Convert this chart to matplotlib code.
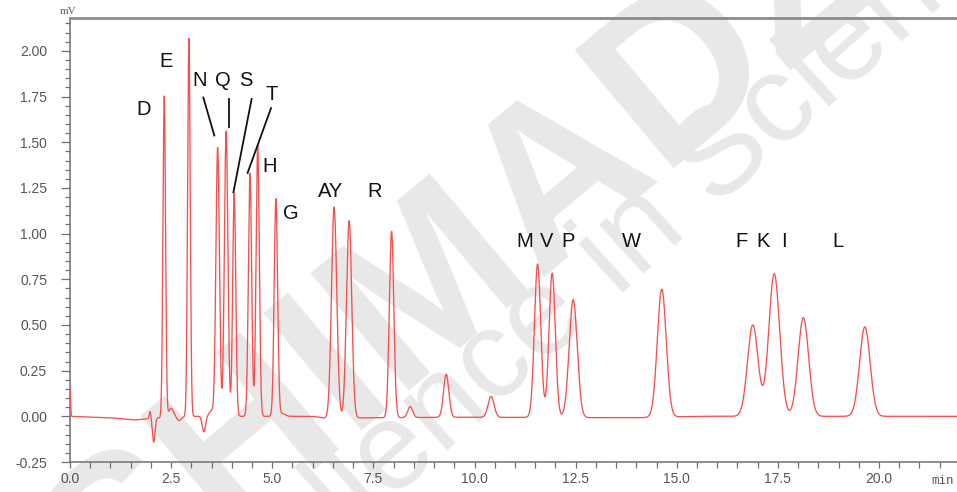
import numpy as np
import matplotlib
matplotlib.use("Agg")
import matplotlib.pyplot as plt
from matplotlib.ticker import MultipleLocator, FormatStrFormatter

plt.rcParams["font.family"] = ["Liberation Sans", "DejaVu Sans"]
plt.rcParams["axes.unicode_minus"] = False

# peak table: retention time (min), height (mV), width (sigma, min)
peak_names = ["D", "E", "N", "Q", "S", "T", "H", "G", "A", "Y", "R",
              "", "", "", "M", "V", "P", "W", "F", "K", "I", "L"]
peak_times = [2.33, 2.94, 3.65, 3.86, 4.06, 4.45, 4.64, 5.09, 6.53, 6.90, 7.95,
              8.41, 9.30, 10.41, 11.56, 11.92, 12.44, 14.63, 16.88, 17.41, 18.13, 19.65]
peak_heights = [1.76, 2.07, 1.47, 1.56, 1.22, 1.33, 1.48, 1.19, 1.155, 1.08, 1.02,
                0.06, 0.235, 0.115, 0.84, 0.79, 0.645, 0.70, 0.50, 0.78, 0.54, 0.49]
peak_widths = [0.032, 0.032, 0.043, 0.043, 0.038, 0.040, 0.040, 0.042, 0.065, 0.065, 0.055,
               0.06, 0.065, 0.075, 0.078, 0.078, 0.10, 0.11, 0.13, 0.135, 0.13, 0.13]

# small disturbances (injection spike, system dips, tails)
minor_times = [0.0, 1.98, 2.07, 2.50, 2.70, 3.31, 3.50, 5.25]
minor_heights = [0.15, 0.04, -0.13, 0.05, -0.02, -0.085, 0.03, 0.015]
minor_widths = [0.012, 0.02, 0.03, 0.06, 0.05, 0.04, 0.06, 0.07]

# baseline drift knots
base_times = [0.0, 1.0, 1.6, 2.0, 3.0, 6.0, 6.3, 9.5, 14.0, 15.5, 22.0]
base_values = [0.0, -0.008, -0.02, -0.012, 0.0, 0.0, -0.01, -0.005, -0.008, 0.0, 0.0]

# annotation letters (label, time, mV)
labels = [("D", 1.81, 1.68), ("E", 2.37, 1.94), ("N", 3.21, 1.836), ("Q", 3.77, 1.836),
          ("S", 4.35, 1.836), ("T", 4.99, 1.763), ("H", 4.93, 1.368), ("G", 5.47, 1.108),
          ("AY", 6.43, 1.228), ("R", 7.52, 1.228), ("M", 11.23, 0.956), ("V", 11.77, 0.956),
          ("P", 12.32, 0.956), ("W", 13.87, 0.956), ("F", 16.61, 0.956), ("K", 17.13, 0.956),
          ("I", 17.64, 0.956), ("L", 18.99, 0.956)]
leaders = [((3.296, 1.745), (3.568, 1.537)), ((3.94, 1.737), (3.94, 1.586)),
           ((4.49, 1.737), (4.04, 1.226)), ((4.97, 1.687), (4.39, 1.332))]

t = np.linspace(0, 22, 12000)
signal = np.interp(t, base_times, base_values)
for tr, h, s in zip(peak_times + minor_times, peak_heights + minor_heights,
                    peak_widths + minor_widths):
    signal += h * np.exp(-0.5 * ((t - tr) / s) ** 2)

fig = plt.figure(figsize=(9.57, 4.92), dpi=100)
ax = fig.add_axes([70 / 957, 30 / 492, 887 / 957, 444 / 492])

# watermark
ax.text(525 / 957, 1 - 212 / 492, "SHIMADZU", transform=fig.transFigure, fontsize=160,
        fontweight="bold", color="#e8e8e8", rotation=40, ha="center", va="center",
        rotation_mode="anchor", zorder=0.5, clip_on=False)
ax.text(572 / 957, 1 - 295 / 492, "Excellence in Science", transform=fig.transFigure,
        fontsize=90, color="#e8e8e8", rotation=42, ha="center", va="center",
        rotation_mode="anchor", zorder=0.5, clip_on=False)

ax.plot(t, signal, color="#f55050", lw=0.95, zorder=3)

for text, x, y in labels:
    ax.text(x, y, text, fontsize=14.5, color="#111111", ha="center", va="center", zorder=4)
for (x0, y0), (x1, y1) in leaders:
    ax.plot([x0, x1], [y0, y1], color="#111111", lw=1.3, zorder=4)

ax.set_xlim(0, 887 / 40.45)
ax.set_ylim(-0.25, 2.18)
ax.xaxis.set_major_locator(MultipleLocator(2.5))
ax.xaxis.set_minor_locator(MultipleLocator(0.5))
ax.yaxis.set_major_locator(MultipleLocator(0.25))
ax.yaxis.set_minor_locator(MultipleLocator(0.05))
ax.xaxis.set_major_formatter(FormatStrFormatter("%.1f"))
ax.yaxis.set_major_formatter(FormatStrFormatter("%.2f"))
ax.tick_params(axis="both", which="both", direction="out", color="#707070",
               labelcolor="#555555", labelsize=10, width=0.9)
ax.tick_params(axis="x", which="both", length=4.3, pad=3)
ax.tick_params(axis="y", which="major", length=6.5, pad=10)
ax.tick_params(axis="y", which="minor", length=3.6)

ax.spines["right"].set_visible(False)
ax.spines["top"].set_color("#8a8a8a")
ax.spines["top"].set_linewidth(2)
for side in ["left", "bottom"]:
    ax.spines[side].set_color("#707070")
    ax.spines[side].set_linewidth(1.1)

fig.text(68 / 957, 1 - 12 / 492, "mV", fontsize=8, color="#555555",
         family=["Liberation Serif", "DejaVu Serif"], ha="center", va="center")
fig.text(943 / 957, 1 - 481 / 492, "min", fontsize=9, color="#555555",
         family=["Liberation Mono", "DejaVu Sans Mono"], ha="center", va="center")

fig.savefig("out.png", dpi=100)
